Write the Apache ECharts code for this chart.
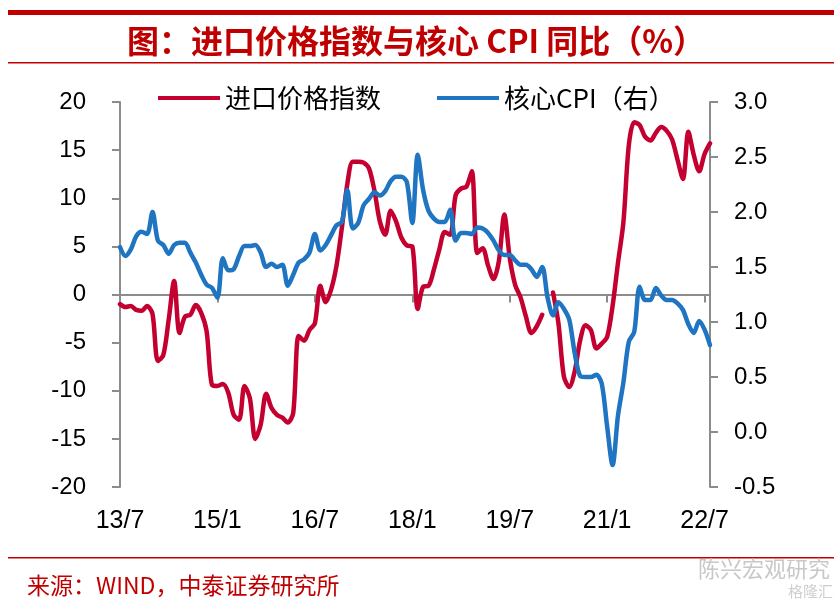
<!DOCTYPE html>
<html><head><meta charset="utf-8">
<script src="https://cdn.jsdelivr.net/npm/echarts/dist/echarts.min.js"></script>
<style>html,body{margin:0;padding:0;background:#fff}#c{width:839px;height:604px}</style>
</head><body><div id="c"></div>
<script>
// categories: monthly, 2013/7 .. 2022/8
const startYear = 2013, startMonth = 7, monthCount = 110;
const months = [];
for (let k = 0; k < monthCount; k++) {
  const m = startMonth - 1 + k;
  months.push(String((startYear + Math.floor(m / 12)) % 100) + '/' + (m % 12 + 1));
}
const seriesNames = ['进口价格指数', '核心CPI（右）'];
// 进口价格指数 同比 (%), left axis
const importPrice = [
  -1.0, -1.3, -1.2, -1.6, -1.7, -1.2, -2.0, -6.9, -6.3, -2.6,
   1.4, -4.0, -2.3, -2.1, -1.1, -1.9, -3.8, -9.4, -9.5, -9.3,
  -10.2, -12.5, -13.0, -9.5, -10.8, -15.0, -13.5, -10.3, -11.8, -12.5,
  -12.8, -13.3, -12.3, -4.3, -4.8, -3.7, -3.0, 0.9, -0.8, 0.5,
   3.0, 7.0, 11.5, 13.8, 13.8, 13.7, 13.1, 10.8, 7.6, 6.2,
   8.7, 7.6, 5.9, 5.1, 5.0, -1.5, 0.8, 0.9, 2.6, 4.7,
   6.5, 6.2, 10.3, 11.0, 11.2, 12.8, 4.3, 4.8, 3.0, 1.6,
   3.5, 8.3, 3.8, 1.0, -0.3, -2.3, -4.0, -3.3, -2.1, null,
   0.2, -3.0, -8.5, -9.6, -8.0, -4.8, -3.2, -3.7, -5.6, -5.1,
  -4.4, -1.2, 3.3, 7.5, 15.5, 17.9, 17.6, 16.4, 16.0, 16.8,
  17.4, 17.0, 16.1, 14.0, 12.0, 16.9, 14.5, 12.8, 14.6, 15.7
];
// 核心CPI 同比 (%), right axis
const coreCPI = [
  1.68, 1.60, 1.66, 1.78, 1.82, 1.80, 2.00, 1.74, 1.70, 1.62,
  1.70, 1.72, 1.72, 1.63, 1.54, 1.43, 1.34, 1.31, 1.22, 1.58,
  1.47, 1.48, 1.60, 1.69, 1.69, 1.70, 1.63, 1.50, 1.53, 1.50,
  1.52, 1.33, 1.43, 1.54, 1.57, 1.63, 1.80, 1.65, 1.70, 1.79,
  1.88, 1.91, 2.20, 1.85, 1.90, 2.06, 2.12, 2.18, 2.15, 2.19,
  2.28, 2.32, 2.32, 2.27, 1.90, 2.52, 2.20, 2.01, 1.94, 1.91,
  1.91, 2.02, 1.74, 1.81, 1.81, 1.80, 1.86, 1.85, 1.81, 1.74,
  1.65, 1.61, 1.61, 1.56, 1.52, 1.52, 1.48, 1.41, 1.50, 1.22,
  1.06, 1.18, 1.12, 1.02, 0.72, 0.51, 0.50, 0.50, 0.52, 0.44,
  0.05, -0.30, 0.15, 0.45, 0.82, 0.91, 1.32, 1.20, 1.20, 1.31,
  1.24, 1.20, 1.20, 1.17, 1.11, 0.98, 0.90, 1.01, 0.93, 0.79
];
const leftAxisRange = [-20, 20, 5];
const rightAxisRange = [-0.5, 3.0, 0.5];
const labelEvery = 18;

const RED = '#C3002F', BLUE = '#1F75C1', AXIS = '#8C8C8C', TITLE_RED = '#C00000';
const LAT = '"Liberation Sans", Arial, sans-serif';
const CJK = '"Noto Sans CJK SC", sans-serif';

const chart = echarts.init(document.getElementById('c'), null, {renderer: 'canvas'});
const option = {
  animation: false,
  backgroundColor: '#fff',
  grid: {left: 120, right: 129, top: 102, bottom: 117, containLabel: false},
  legend: {
    left: 158, top: 85, padding: 0,
    itemWidth: 62, itemHeight: 4, itemGap: 56,
    textStyle: {fontFamily: CJK, fontSize: 26, color: '#000'},
    data: [{name: seriesNames[0], icon: 'rect'}, {name: seriesNames[1], icon: 'rect'}]
  },
  xAxis: [
    {
      type: 'category', data: months, boundaryGap: false,
      axisLine: {show: true, onZero: true, lineStyle: {color: AXIS, width: 2}},
      axisTick: {show: true, interval: labelEvery - 1, length: 8, lineStyle: {color: AXIS, width: 2}},
      axisLabel: {show: false}, splitLine: {show: false}
    },
    {
      type: 'category', data: months, boundaryGap: false, position: 'bottom',
      axisLine: {show: false, onZero: false}, axisTick: {show: false},
      axisLabel: {interval: labelEvery - 1, margin: 22, fontSize: 25, fontFamily: LAT, color: '#000'},
      splitLine: {show: false}
    }
  ],
  yAxis: [
    {
      type: 'value', min: leftAxisRange[0], max: leftAxisRange[1], interval: leftAxisRange[2],
      axisLine: {show: true, lineStyle: {color: AXIS, width: 2}},
      axisTick: {show: true, length: 8, lineStyle: {color: AXIS, width: 2}},
      axisLabel: {margin: 34, fontSize: 24, fontFamily: LAT, color: '#000'},
      splitLine: {show: false}
    },
    {
      type: 'value', position: 'right', min: rightAxisRange[0], max: rightAxisRange[1], interval: rightAxisRange[2],
      axisLine: {show: true, lineStyle: {color: AXIS, width: 2}},
      axisTick: {show: true, length: 8, lineStyle: {color: AXIS, width: 2}},
      axisLabel: {margin: 24, fontSize: 24, fontFamily: LAT, color: '#000', formatter: v => v.toFixed(1)},
      splitLine: {show: false}
    }
  ],
  series: [
    {
      name: seriesNames[0], type: 'line', data: importPrice, xAxisIndex: 0, yAxisIndex: 0,
      symbol: 'none', smooth: 0.3, connectNulls: false,
      lineStyle: {width: 4.5, color: RED, cap: 'round', join: 'round'}, itemStyle: {color: RED}
    },
    {
      name: seriesNames[1], type: 'line', data: coreCPI, xAxisIndex: 0, yAxisIndex: 1,
      symbol: 'none', smooth: 0.3,
      lineStyle: {width: 4.5, color: BLUE, cap: 'round', join: 'round'}, itemStyle: {color: BLUE}
    }
  ],
  graphic: [
    {type: 'rect', shape: {x: 8, y: 10, width: 826, height: 5}, style: {fill: TITLE_RED}},
    {type: 'text', x: 416, y: 41, style: {text: '图：进口价格指数与核心 CPI 同比（%）', font: 'bold 32px ' + CJK, fill: TITLE_RED, align: 'center', verticalAlign: 'middle'}},
    {type: 'rect', shape: {x: 8, y: 62, width: 826, height: 1.5}, style: {fill: TITLE_RED}},
    {type: 'rect', shape: {x: 8, y: 557, width: 826, height: 1.5}, style: {fill: TITLE_RED}},
    {type: 'text', x: 27, y: 585, style: {text: '来源：WIND，中泰证券研究所', font: '23px ' + CJK, fill: TITLE_RED, verticalAlign: 'middle'}},
    {type: 'text', x: 698, y: 569, style: {text: '陈兴宏观研究', font: '22px ' + CJK, fill: '#c8c8c8', verticalAlign: 'middle'}},
    {type: 'text', x: 788, y: 591, style: {text: '格隆汇', font: '15px ' + CJK, fill: '#cfcfcf', verticalAlign: 'middle'}}
  ]
};
chart.setOption(option);
</script>
</body></html>
